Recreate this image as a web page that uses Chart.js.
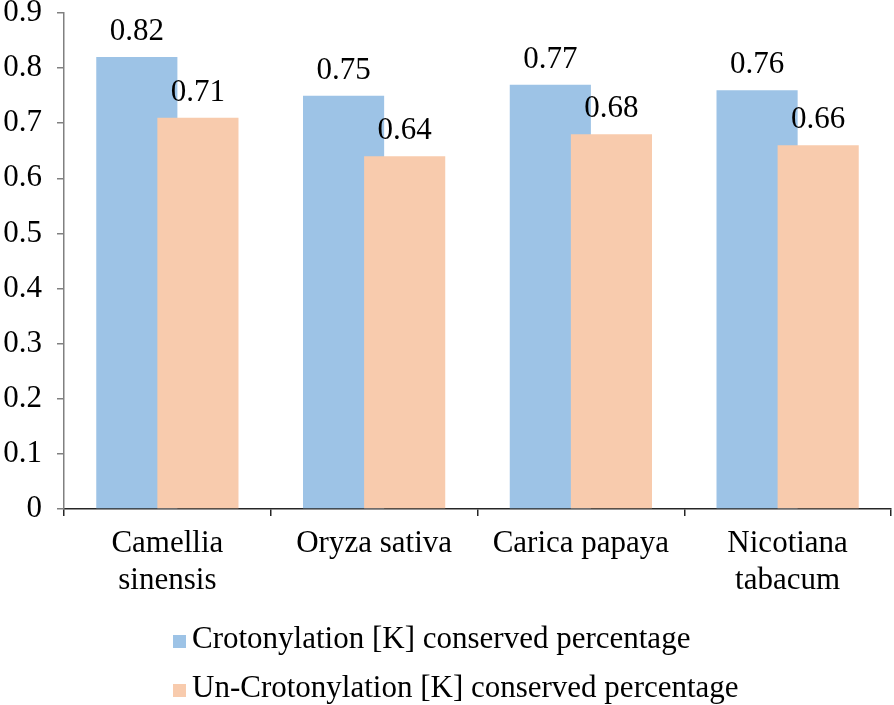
<!DOCTYPE html>
<html lang="en">
<head>
  <meta charset="UTF-8" />
  <title>Crotonylation conserved percentage</title>
  <script src="https://cdn.jsdelivr.net/npm/chart.js"></script>
  <style>
    html, body { margin: 0; padding: 0; background: #fff; }
    #wrap { position: relative; width: 894px; height: 705px; }
    #legend { position: absolute; left: 0; top: 0; width: 894px; height: 705px; pointer-events: none;
      font-family: 'Liberation Serif', 'Times New Roman', serif; font-size: 31px; color: #000; }
    .row { position: absolute; left: 173px; line-height: 31px; white-space: nowrap; }
    .box { display: inline-block; width: 13px; height: 13px; margin-right: 6px; vertical-align: baseline; }
  </style>
</head>
<body>
  <div id="wrap">
    <canvas id="chart"></canvas>
    <div id="legend"></div>
  </div>

  <script>
    // chart data
    const categories = [['Camellia', 'sinensis'], 'Oryza sativa', 'Carica papaya', ['Nicotiana', 'tabacum']];
    const crotonylated = [0.82, 0.75, 0.77, 0.76];
    const unCrotonylated = [0.71, 0.64, 0.68, 0.66];
    const seriesNames = ['Crotonylation [K] conserved percentage', 'Un-Crotonylation [K] conserved percentage'];
    const seriesColors = ['#9dc3e6', '#f8cbad'];

    const FONT = "'Liberation Serif', 'Times New Roman', serif";
    const SIZE = 31;
    Chart.defaults.font.family = FONT;
    Chart.defaults.color = '#000';

    // blue bar goes underneath the orange one, so draw it before the others
    const underlay = {
      id: 'underlay',
      beforeDatasetsDraw(chart) {
        chart.getDatasetMeta(0).controller.draw();
      },
      beforeDatasetDraw(chart, args) {
        if (args.index === 0) return false;
      }
    };

    const valueLabels = {
      id: 'valueLabels',
      afterDatasetsDraw(chart) {
        const ctx = chart.ctx;
        ctx.save();
        ctx.font = SIZE + 'px ' + FONT;
        ctx.fillStyle = '#000';
        ctx.textAlign = 'center';
        ctx.textBaseline = 'alphabetic';
        chart.data.datasets.forEach((ds, i) => {
          chart.getDatasetMeta(i).data.forEach((bar, j) => {
            ctx.fillText(String(ds.data[j]), bar.x, bar.y - 17);
          });
        });
        ctx.restore();
      }
    };

    new Chart(document.getElementById('chart'), {
      type: 'bar',
      data: {
        labels: categories,
        datasets: [
          { label: seriesNames[0], data: crotonylated, backgroundColor: seriesColors[0] },
          { label: seriesNames[1], data: unCrotonylated, backgroundColor: seriesColors[1] }
        ]
      },
      options: {
        responsive: true,
        maintainAspectRatio: false,
        animation: false,
        categoryPercentage: 0.591,
        barPercentage: 1.328,
        layout: { padding: { left: 2, right: 3, top: 0, bottom: 106 } },
        plugins: {
          legend: { display: false },
          tooltip: { enabled: false }
        },
        scales: {
          x: {
            offset: true,
            grid: { offset: true, drawOnChartArea: false, tickLength: 7, color: '#262626', lineWidth: 1.5 },
            border: { color: '#262626', width: 1.5 },
            ticks: { font: { size: SIZE }, padding: 9, maxRotation: 0, autoSkip: false },
            afterFit(axis) {
              axis.height = 90;
              axis.paddingLeft = 0;
              axis.paddingRight = 0;
            }
          },
          y: {
            min: 0,
            max: 0.9,
            grid: { drawOnChartArea: false, tickLength: 7, color: '#808080', lineWidth: 1.5 },
            border: { color: '#808080', width: 1.5 },
            ticks: {
              stepSize: 0.1,
              padding: 15,
              font: { size: SIZE },
              callback: v => String(parseFloat(v.toFixed(1)))
            },
            afterFit(axis) {
              axis.width = 62;
              axis.paddingTop = 13;
              axis.paddingBottom = 0;
            }
          }
        }
      },
      plugins: [underlay, valueLabels]
    });

    // legend, one item per row
    const legend = document.getElementById('legend');
    const rowTops = [622, 671];
    seriesNames.forEach((name, i) => {
      const row = document.createElement('div');
      row.className = 'row';
      row.style.top = rowTops[i] + 'px';
      const box = document.createElement('span');
      box.className = 'box';
      box.style.background = seriesColors[i];
      row.appendChild(box);
      row.appendChild(document.createTextNode(name));
      legend.appendChild(row);
    });
  </script>
</body>
</html>
